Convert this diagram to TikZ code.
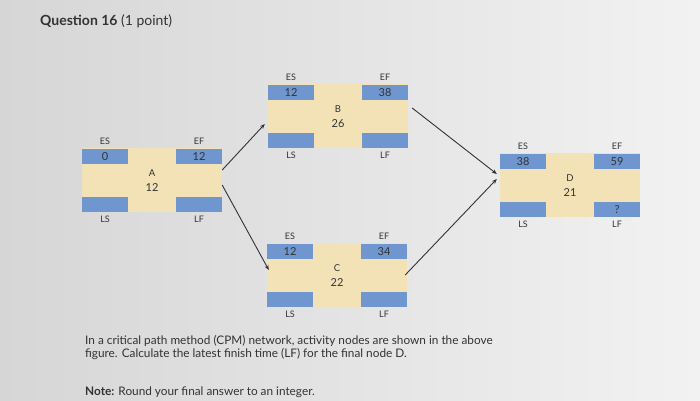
\documentclass[tikz,border=0pt]{standalone}
\usepackage{fontspec}
\setmainfont{Lato}
\usetikzlibrary{arrows.meta,positioning}
\definecolor{actyellow}{HTML}{F2E2B6}
\definecolor{slotblue}{HTML}{6F96CE}
\definecolor{txt}{HTML}{333333}
\definecolor{bgL}{HTML}{D6D6D6}
\definecolor{bgR}{HTML}{F2F2F2}
\tikzset{
  act/.style={fill=actyellow, minimum width=140pt, minimum height=64pt, inner sep=0pt},
  slot/.style={fill=slotblue, minimum width=46pt, minimum height=15pt, inner sep=0pt,
    font=\fontsize{11}{11}\selectfont, text=txt},
  tag/.style={font=\fontsize{9}{9}\selectfont, text=txt, inner sep=0pt},
  actname/.style={font=\fontsize{9.5}{9.5}\selectfont, text=txt, inner sep=0pt},
  actdur/.style={font=\fontsize{11}{11}\selectfont, text=txt, inner sep=0pt},
  link/.style={draw=txt, line width=0.9pt, -{Stealth[length=5pt,width=4pt]}},
  prose/.style={font=\fontsize{11.8}{13}\selectfont, text=txt, inner sep=0pt, align=left}
}
\begin{document}
\begin{tikzpicture}[x=1pt,y=-1pt]
\useasboundingbox (0,0) rectangle (700,400);
\shade[left color=bgL, right color=bgR] (0,0) rectangle (700,400);

% title
\node[anchor=base west, font=\fontsize{14}{16}\selectfont, text=txt, inner sep=0pt] (title) at (40,25)
  {\textbf{Question 16} (1 point)};

% activity nodes
\node[act] (A) at (152,180) {};
\node[act] (B) at (338,116) {};
\node[act] (C) at (337,275) {};
\node[act] (D) at (570,185) {};

\foreach \n/\es/\ef/\ls/\lf/\nm/\du in {A/0/12///A/12, B/12/38///B/26, C/12/34///C/22, D/38/59//?/D/21}{
  \node[slot, anchor=north west] (\n ES) at ([yshift=-1pt]\n.north west) {\es};
  \node[slot, anchor=north east] (\n EF) at ([yshift=-1pt]\n.north east) {\ef};
  \node[slot, anchor=south west] (\n LS) at (\n.south west) {\ls};
  \node[slot, anchor=south east] (\n LF) at (\n.south east) {\lf};
  \node[tag, above=4pt of \n ES] (\n tES) {ES};
  \node[tag, above=4pt of \n EF] (\n tEF) {EF};
  \node[tag, below=4pt of \n LS] (\n tLS) {LS};
  \node[tag, below=4pt of \n LF] (\n tLF) {LF};
  \node[actname] (\n name) at ([yshift=7pt]\n.center) {\nm};
  \node[actdur] (\n dur) at ([yshift=-8pt]\n.center) {\du};
}

% connectors
\draw[link] ([yshift=10pt]A.east) -- ([xshift=-3pt,yshift=-8pt]B.west);
\draw[link] ([yshift=-5pt]A.east) -- ([xshift=2pt,yshift=5pt]C.west);
\draw[link] ([xshift=4pt,yshift=8pt]B.east) -- ([xshift=-3pt,yshift=11pt]D.west);
\draw[link] ([xshift=-2pt]C.east) -- ([xshift=-3pt,yshift=6pt]D.west);

% question text
\node[prose, anchor=base west] (q) at (85,357)
  {In a critical path method (CPM) network, activity nodes are shown in the above\\
   figure. Calculate the latest finish time (LF) for the final node D.};
\node[prose, anchor=base west] (note) at (85,395)
  {\textbf{Note:} Round your final answer to an integer.};
\end{tikzpicture}
\end{document}
